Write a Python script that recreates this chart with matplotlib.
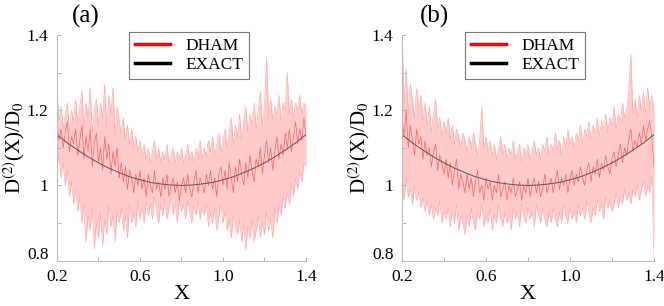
import numpy as np
import matplotlib
matplotlib.use("Agg")
import matplotlib.pyplot as plt
import matplotlib.transforms as mtransforms

plt.rcParams['font.family'] = ['Liberation Serif', 'DejaVu Serif']
plt.rcParams['mathtext.fontset'] = 'stix'

# --- Daten ---
x_grid = np.round(np.arange(0.20, 1.4001, 0.01), 2)   # 121 Stuetzstellen

x_exact = [0.20, 0.25, 0.30, 0.35, 0.40, 0.45, 0.50, 0.55, 0.60, 0.65, 0.70, 0.75, 0.80,
           0.85, 0.90, 0.95, 1.00, 1.05, 1.10, 1.15, 1.20, 1.25, 1.30, 1.35, 1.40]
d_exact = [1.135, 1.113, 1.094, 1.076, 1.060, 1.046, 1.034, 1.023, 1.015, 1.008, 1.004, 1.001, 1.000,
           1.001, 1.004, 1.008, 1.015, 1.023, 1.034, 1.046, 1.060, 1.076, 1.094, 1.113, 1.135]

# Panel (a)
upper_a = [1.24, 1.17, 1.21, 1.15, 1.19, 1.22, 1.14, 1.20, 1.17, 1.23, 1.16,
           1.21, 1.25, 1.15, 1.22, 1.18, 1.26, 1.14, 1.20, 1.23, 1.16,
           1.22, 1.18, 1.27, 1.15, 1.24, 1.19, 1.26, 1.13, 1.21, 1.17,
           1.14, 1.18, 1.12, 1.16, 1.11, 1.15, 1.10, 1.13, 1.09, 1.12,
           1.08, 1.11, 1.07, 1.10, 1.06, 1.09, 1.12, 1.07, 1.10, 1.06,
           1.09, 1.07, 1.11, 1.06, 1.08, 1.10, 1.06, 1.09, 1.07, 1.10,
           1.06, 1.08, 1.11, 1.07, 1.09, 1.06, 1.10, 1.08, 1.12, 1.07,
           1.10, 1.08, 1.12, 1.09, 1.13, 1.08, 1.11, 1.14, 1.09, 1.12,
           1.15, 1.10, 1.14, 1.18, 1.11, 1.16, 1.13, 1.19, 1.12, 1.17,
           1.21, 1.14, 1.19, 1.16, 1.22, 1.15, 1.20, 1.25, 1.16, 1.21,
           1.34, 1.18, 1.23, 1.17, 1.21, 1.19, 1.24, 1.17, 1.22, 1.20,
           1.30, 1.19, 1.23, 1.18, 1.22, 1.20, 1.24, 1.19, 1.22, 1.21]
lower_a = [1.05, 1.08, 1.02, 1.06, 1.00, 1.04, 0.97, 1.01, 0.95, 0.99, 0.93,
           0.97, 0.90, 0.95, 0.85, 0.92, 0.88, 0.94, 0.83, 0.90, 0.86,
           0.93, 0.84, 0.91, 0.87, 0.95, 0.89, 0.92, 0.85, 0.93, 0.90,
           0.94, 0.88, 0.92, 0.86, 0.95, 0.90, 0.93, 0.89, 0.96, 0.91,
           0.94, 0.90, 0.96, 0.92, 0.95, 0.91, 0.97, 0.93, 0.90, 0.95,
           0.92, 0.96, 0.91, 0.94, 0.97, 0.92, 0.95, 0.90, 0.96, 0.93,
           0.95, 0.91, 0.96, 0.93, 0.90, 0.95, 0.92, 0.96, 0.91, 0.94,
           0.92, 0.95, 0.89, 0.93, 0.90, 0.94, 0.88, 0.92, 0.95, 0.90,
           0.93, 0.88, 0.91, 0.86, 0.92, 0.89, 0.87, 0.91, 0.85, 0.90,
           0.83, 0.89, 0.86, 0.91, 0.85, 0.88, 0.92, 0.86, 0.90, 0.87,
           0.93, 0.88, 0.91, 0.86, 0.94, 0.90, 0.95, 0.92, 0.97, 0.94,
           0.98, 0.95, 1.00, 0.97, 1.02, 0.99, 1.04, 1.01, 1.06, 1.05]
mid_a = [1.16, 1.12, 1.15, 1.10, 1.14, 1.17, 1.09, 1.13, 1.11, 1.15, 1.08,
         1.12, 1.16, 1.07, 1.13, 1.09, 1.15, 1.05, 1.11, 1.14, 1.06,
         1.10, 1.04, 1.13, 1.07, 1.11, 1.03, 1.09, 1.05, 1.10, 1.02,
         1.06, 1.01, 1.05, 0.99, 1.04, 1.02, 0.98, 1.03, 1.00, 1.04,
         0.99, 1.02, 0.97, 1.03, 1.00, 0.98, 1.04, 0.99, 1.01, 0.97,
         1.02, 0.99, 1.03, 0.97, 1.00, 1.02, 0.98, 1.01, 0.96, 1.00,
         1.02, 0.98, 1.03, 0.99, 0.97, 1.01, 1.04, 0.98, 1.02, 1.00,
         0.98, 1.03, 1.00, 1.04, 0.99, 1.02, 0.97, 1.03, 1.05, 1.00,
         1.04, 0.99, 1.06, 1.02, 0.98, 1.05, 1.01, 1.07, 1.03, 1.00,
         1.06, 1.02, 1.08, 1.04, 1.01, 1.07, 1.05, 1.10, 1.03, 1.08,
         1.12, 1.06, 1.10, 1.04, 1.09, 1.13, 1.07, 1.11, 1.08, 1.14,
         1.10, 1.15, 1.09, 1.13, 1.17, 1.11, 1.15, 1.12, 1.18, 1.13]

# Panel (b)
upper_b = [1.40, 1.22, 1.31, 1.19, 1.27, 1.23, 1.18, 1.26, 1.20, 1.24, 1.17,
           1.22, 1.16, 1.21, 1.14, 1.19, 1.23, 1.15, 1.18, 1.13, 1.17,
           1.14, 1.18, 1.12, 1.16, 1.11, 1.15, 1.13, 1.10, 1.14, 1.12,
           1.09, 1.13, 1.10, 1.14, 1.11, 1.08, 1.12, 1.21, 1.10, 1.13,
           1.09, 1.12, 1.08, 1.11, 1.07, 1.10, 1.13, 1.08, 1.11, 1.07,
           1.10, 1.08, 1.12, 1.07, 1.09, 1.11, 1.06, 1.10, 1.08, 1.11,
           1.07, 1.09, 1.12, 1.08, 1.10, 1.07, 1.11, 1.09, 1.13, 1.08,
           1.11, 1.09, 1.14, 1.10, 1.12, 1.08, 1.13, 1.10, 1.15, 1.11,
           1.13, 1.10, 1.14, 1.12, 1.16, 1.11, 1.15, 1.13, 1.17, 1.12,
           1.16, 1.14, 1.18, 1.13, 1.17, 1.15, 1.19, 1.14, 1.18, 1.16,
           1.21, 1.15, 1.19, 1.17, 1.22, 1.18, 1.20, 1.25, 1.35, 1.19,
           1.23, 1.18, 1.24, 1.20, 1.25, 1.19, 1.26, 1.21, 1.24, 1.20]
lower_b = [1.00, 0.96, 1.02, 0.97, 0.99, 0.95, 1.00, 0.96, 0.98, 0.94, 0.97,
           0.93, 0.96, 0.92, 0.95, 0.91, 0.94, 0.92, 0.96, 0.90, 0.93,
           0.91, 0.94, 0.89, 0.93, 0.90, 0.95, 0.88, 0.92, 0.90, 0.87,
           0.92, 0.89, 0.94, 0.90, 0.88, 0.93, 0.91, 0.95, 0.89, 0.92,
           0.90, 0.94, 0.88, 0.92, 0.90, 0.95, 0.91, 0.89, 0.93, 0.90,
           0.92, 0.88, 0.94, 0.91, 0.93, 0.89, 0.95, 0.92, 0.90, 0.94,
           0.91, 0.93, 0.89, 0.95, 0.92, 0.90, 0.94, 0.91, 0.89, 0.93,
           0.90, 0.94, 0.91, 0.89, 0.93, 0.90, 0.95, 0.92, 0.90, 0.94,
           0.91, 0.93, 0.90, 0.95, 0.92, 0.94, 0.91, 0.96, 0.93, 0.90,
           0.94, 0.92, 0.96, 0.93, 0.95, 0.91, 0.97, 0.94, 0.96, 0.93,
           0.95, 0.98, 0.94, 0.97, 0.95, 0.99, 0.96, 0.98, 0.95, 0.99,
           0.97, 1.00, 0.96, 0.99, 1.01, 0.97, 1.00, 0.98, 1.02, 0.81]
mid_b = [1.18, 1.13, 1.20, 1.10, 1.16, 1.12, 1.08, 1.15, 1.11, 1.13, 1.07,
         1.12, 1.08, 1.10, 1.05, 1.09, 1.11, 1.04, 1.08, 1.06, 1.03,
         1.07, 1.02, 1.06, 1.00, 1.04, 1.07, 0.99, 1.03, 1.01, 0.98,
         1.03, 0.99, 1.02, 0.97, 1.01, 1.04, 0.98, 1.00, 0.96, 1.02,
         0.99, 1.01, 0.96, 1.00, 0.98, 1.03, 0.97, 0.99, 1.01, 0.96,
         1.00, 0.98, 1.02, 0.97, 0.99, 1.01, 0.96, 1.00, 0.98, 1.02,
         0.97, 1.00, 1.02, 0.98, 1.01, 0.97, 0.99, 1.03, 0.98, 1.00,
         1.02, 0.98, 1.01, 1.04, 0.99, 1.02, 1.00, 1.03, 0.98, 1.02,
         1.04, 1.00, 1.03, 1.01, 1.05, 1.02, 1.00, 1.04, 1.06, 1.01,
         1.05, 1.03, 1.07, 1.02, 1.06, 1.04, 1.08, 1.05, 1.03, 1.07,
         1.09, 1.05, 1.08, 1.11, 1.06, 1.10, 1.08, 1.12, 1.15, 1.09,
         1.12, 1.10, 1.14, 1.11, 1.16, 1.12, 1.15, 1.17, 1.13, 1.05]

x_ticks = [0.2, 0.4, 0.6, 0.8, 1.0, 1.2, 1.4]
x_ticklabels = ['0.2', '', '0.6', '', '1.0', '', '1.4']
y_ticks = [0.8, 0.9, 1.0, 1.1, 1.2, 1.3, 1.4]
y_ticklabels = ['0.8', '', '1', '', '1.2', '', '1.4']

fig = plt.figure(figsize=(6.64, 3.06), dpi=100)
ax_a = fig.add_axes([0.0858, 0.1484, 0.375, 0.737])
ax_b = fig.add_axes([0.6054, 0.1484, 0.3795, 0.737])

panels = [(ax_a, upper_a, lower_a, mid_a, '(a)', 0.129, 0.194),
          (ax_b, upper_b, lower_b, mid_b, '(b)', 0.655, 0.700)]

for ax, up, lo, mid, tag, tag_x, leg_x in panels:
    ax.fill_between(x_grid, lo, up, color='#ffcaca', lw=0)
    ax.plot(x_grid, up, color='#ffa8a8', lw=0.45)
    ax.plot(x_grid, lo, color='#ffa8a8', lw=0.45)
    ax.plot(x_grid, mid, color='#ff1a1a', lw=0.5, alpha=0.6)
    ax.plot(x_exact, d_exact, color='#555555', lw=0.7)

    ax.set_xlim(0.2, 1.4)
    ax.set_ylim(0.8, 1.4)
    ax.set_xticks(x_ticks)
    ax.set_xticklabels(x_ticklabels)
    ax.set_yticks(y_ticks)
    ax.set_yticklabels(y_ticklabels)
    ax.tick_params(direction='in', length=3, width=0.6, color='#aaaaaa',
                   labelsize=12.5, pad=6)
    for s in ['top', 'right']:
        ax.spines[s].set_visible(False)
    for s in ['left', 'bottom']:
        ax.spines[s].set_color('#bbbbbb')
        ax.spines[s].set_linewidth(0.8)

    # 0.8-Label etwas nach oben schieben wie im Original
    lab = ax.get_yticklabels()[0]
    lab.set_transform(lab.get_transform() + mtransforms.ScaledTranslation(0, 8/100, fig.dpi_scale_trans))

    ax.set_xlabel('X', fontsize=16, labelpad=0)
    ax.set_ylabel(r'D$^{(2)}$(X)/D$_0$', fontsize=15, labelpad=0)

    fig.text(tag_x, 0.945, tag, fontsize=18, ha='center', va='center')

    h1, = ax.plot([], [], color='#ff0000', lw=2.5, label='DHAM')
    h2, = ax.plot([], [], color='black', lw=2.5, label='EXACT')
    leg = ax.legend(handles=[h1, h2], loc='upper left', bbox_to_anchor=(leg_x, 0.895),
                    bbox_transform=fig.transFigure, fontsize=12.5, frameon=True,
                    fancybox=False, handlelength=2.0, handletextpad=0.9,
                    borderaxespad=0, borderpad=0.35, labelspacing=0.15)
    leg.get_frame().set_edgecolor('#555555')
    leg.get_frame().set_linewidth(0.8)

fig.savefig('out.png', dpi=100)
